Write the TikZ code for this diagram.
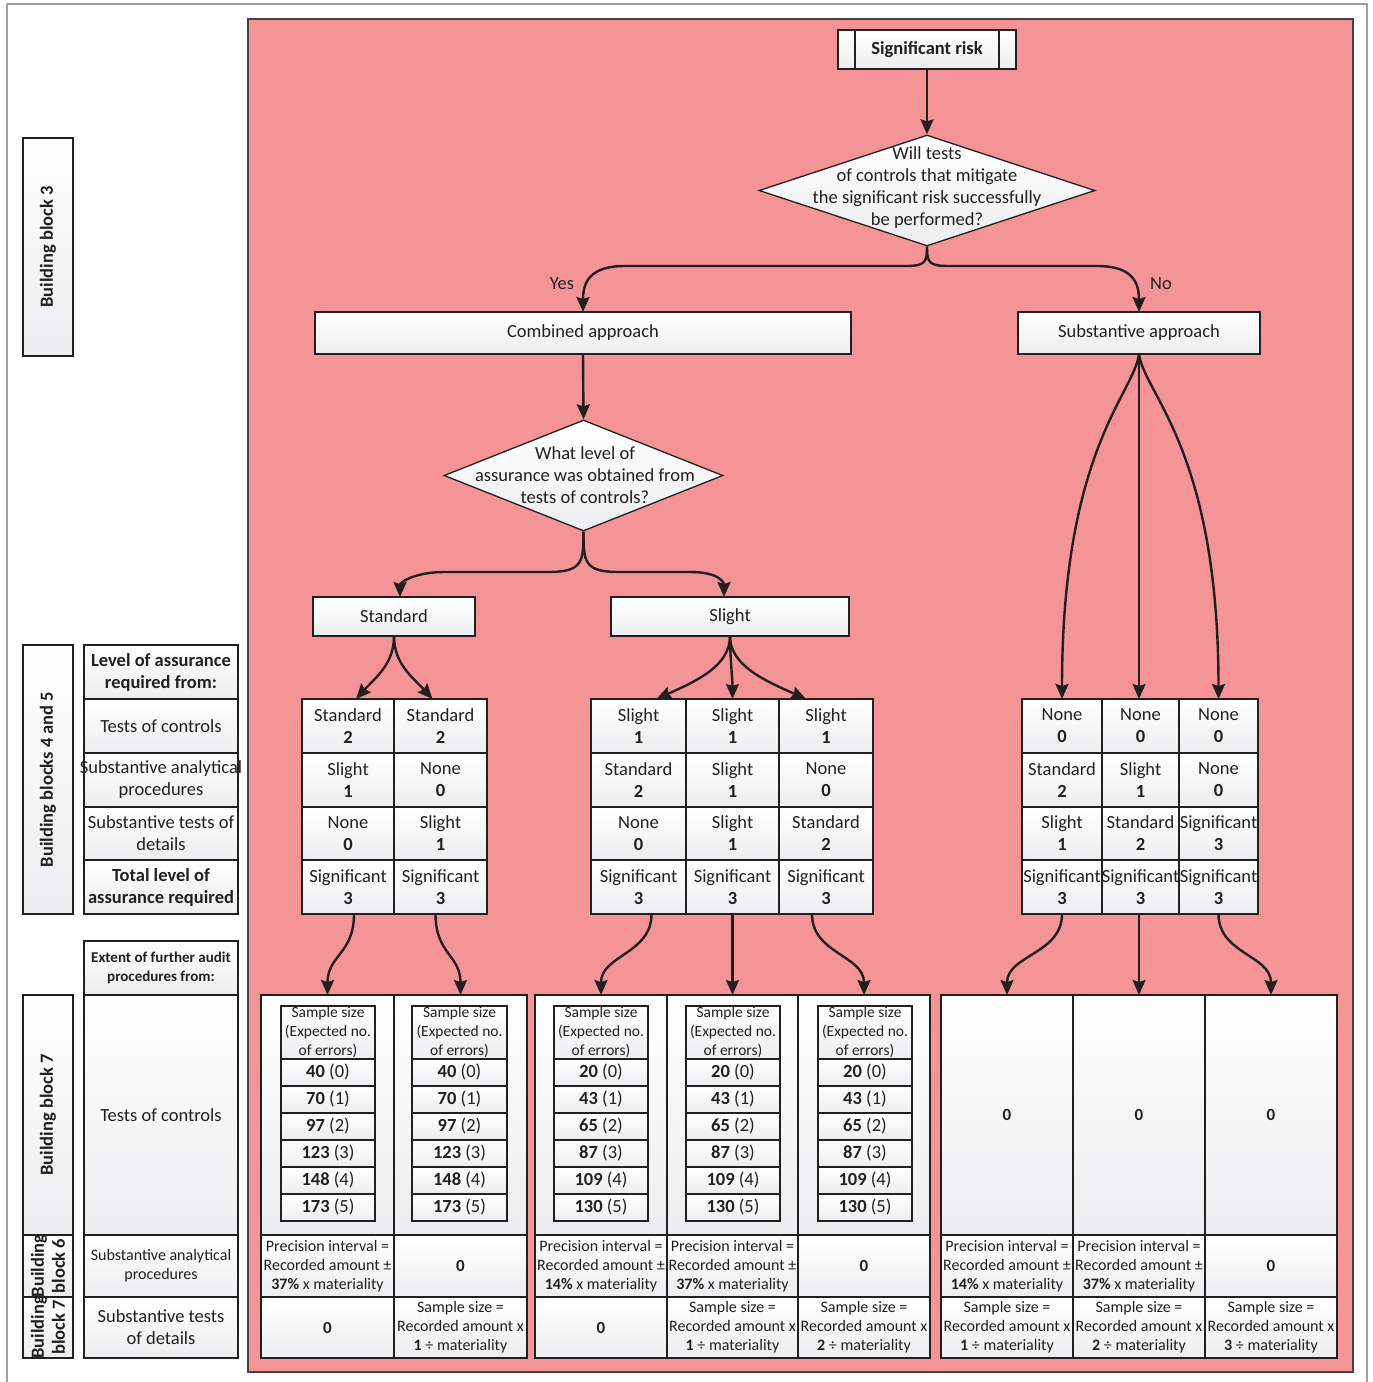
\documentclass[tikz,border=0pt]{standalone}
\usepackage{fontspec}
\setmainfont{Carlito}
\usetikzlibrary{arrows.meta,shapes.geometric}
\definecolor{panel}{RGB}{244,148,150}
\definecolor{ink}{RGB}{35,31,32}
\definecolor{boxbot}{RGB}{235,237,238}
\newcommand\mkrect[5]{\node[cbox, minimum width={(#4)-(#2)}, minimum height={(#5)-(#3)}] (#1) at ({((#2)+(#4))/2},{((#3)+(#5))/2}) {};}
\newcommand\mkbox[7]{\mkrect{#1}{#2}{#3}{#4}{#5}\node[txt,#6] (#1t) at (#1.center) {#7};}
\newcommand\lvl[7]{\mkbox{#1}{#2}{#3}{#4}{#5}{}{#6\\\textbf{#7}}}
\newcommand\sstab[9]{%
\mkbox{#1h}{#2}{1006}{#3}{1059}{fss}{Sample size\\(Expected no.\\of errors)}%
\mkbox{#1r0}{#2}{1059}{#3}{1086}{}{\textbf{#4} (0)}%
\mkbox{#1r1}{#2}{1086}{#3}{1113}{}{\textbf{#5} (1)}%
\mkbox{#1r2}{#2}{1113}{#3}{1140}{}{\textbf{#6} (2)}%
\mkbox{#1r3}{#2}{1140}{#3}{1167}{}{\textbf{#7} (3)}%
\mkbox{#1r4}{#2}{1167}{#3}{1194}{}{\textbf{#8} (4)}%
\mkbox{#1r5}{#2}{1194}{#3}{1221}{}{\textbf{#9} (5)}}
\begin{document}
\begin{tikzpicture}[x=1pt,y=-1pt,
  cbox/.style={draw=ink, line width=1.3pt, top color=white, bottom color=boxbot, inner sep=0pt, outer sep=0pt},
  txt/.style={inner sep=0pt, outer sep=0pt, align=center, text=ink, font=\fontsize{18.5}{22}\selectfont},
  fbf/.style={font=\bfseries\fontsize{18.5}{22}\selectfont},
  fsm/.style={font=\fontsize{16}{19}\selectfont},
  fsmb/.style={font=\bfseries\fontsize{17}{19}\selectfont},
  fss/.style={font=\fontsize{15.5}{19}\selectfont},
  fhb/.style={font=\bfseries\fontsize{15}{19}\selectfont},
  fbb/.style={font=\bfseries\fontsize{18.5}{21}\selectfont, rotate=90},
  arr/.style={draw=ink, line width=2.4pt, -{Stealth[length=15pt,width=13pt,inset=2pt]}},
  lbl/.style={inner sep=0pt, text=ink, font=\fontsize{18.5}{22}\selectfont}]
\useasboundingbox (0,0) rectangle (1373,1382);
\fill[white] (0,0) rectangle (1373,1382);
\draw[gray!75, line width=1.5pt] (7,1382) -- (7,4) -- (1367,4) -- (1367,1382);
\draw[fill=panel, draw=ink!85, line width=1.3pt] (248,19) rectangle (1353,1372);

% left labels
\mkbox{bb3}{23}{138}{73}{356}{fbb}{Building block 3}
\mkbox{bb45}{23}{645}{73}{914}{fbb}{Building blocks 4 and 5}
\mkbox{bb7}{23}{995}{73}{1235}{fbb}{Building block 7}
\mkbox{bb6}{23}{1235}{73}{1297}{fbb}{Building\\block 6}
\mkbox{bb7b}{23}{1297}{73}{1358}{fbb}{Building\\block 7}

\mkbox{la}{84}{645}{238}{699}{fbf}{Level of assurance\\required from:}
\mkbox{lb}{84}{699}{238}{753}{}{Tests of controls}
\mkbox{lc}{84}{753}{238}{807}{}{Substantive analytical\\procedures}
\mkbox{ld}{84}{807}{238}{860}{}{Substantive tests of\\details}
\mkbox{le}{84}{860}{238}{914}{fbf}{Total level of\\assurance required}

\mkbox{ea}{84}{941}{238}{995}{fhb}{Extent of further audit\\procedures from:}
\mkbox{eb}{84}{995}{238}{1235}{}{Tests of controls}
\mkbox{ec}{84}{1235}{238}{1297}{fsm}{Substantive analytical\\procedures}
\mkbox{ed}{84}{1297}{238}{1358}{}{Substantive tests\\of details}

% flow
\mkbox{sr}{838}{30}{1016}{69}{fbf}{Significant risk}
\draw[ink, line width=1.3pt] ([xshift=17pt]sr.north west) -- ([xshift=17pt]sr.south west);
\draw[ink, line width=1.3pt] ([xshift=-17pt]sr.north east) -- ([xshift=-17pt]sr.south east);
\node[draw=ink, line width=1.3pt, shape=diamond, top color=white, bottom color=boxbot, minimum width=336pt, minimum height=111pt, inner sep=0pt] (d1) at (927,190.5) {};
\node[txt] (d1t) at (927,188) {Will tests\\of controls that mitigate\\the significant risk successfully\\be performed?};
\mkbox{comb}{315}{312}{851}{354}{}{Combined approach}
\mkbox{sub}{1018}{312}{1260}{354}{}{Substantive approach}
\node[lbl] (yes) at (562,284) {Yes};
\node[lbl] (no) at (1161,284) {No};
\node[draw=ink, line width=1.3pt, shape=diamond, top color=white, bottom color=boxbot, minimum width=279pt, minimum height=111pt, inner sep=0pt] (d2) at (583.5,475.5) {};
\node[txt] (d2t) at (585,475) {What level of\\assurance was obtained from\\tests of controls?};
\mkbox{std}{313}{597}{475}{636}{}{Standard}
\mkbox{sl}{611}{597}{849}{636}{}{Slight}

% level tables
\lvl{a11}{302}{699}{394}{753}{Standard}{2}
\lvl{a12}{302}{753}{394}{807}{Slight}{1}
\lvl{a13}{302}{807}{394}{860}{None}{0}
\lvl{a14}{302}{860}{394}{914}{Significant}{3}
\lvl{a21}{394}{699}{487}{753}{Standard}{2}
\lvl{a22}{394}{753}{487}{807}{None}{0}
\lvl{a23}{394}{807}{487}{860}{Slight}{1}
\lvl{a24}{394}{860}{487}{914}{Significant}{3}

\lvl{b11}{591}{699}{686}{753}{Slight}{1}
\lvl{b12}{591}{753}{686}{807}{Standard}{2}
\lvl{b13}{591}{807}{686}{860}{None}{0}
\lvl{b14}{591}{860}{686}{914}{Significant}{3}
\lvl{b21}{686}{699}{779}{753}{Slight}{1}
\lvl{b22}{686}{753}{779}{807}{Slight}{1}
\lvl{b23}{686}{807}{779}{860}{Slight}{1}
\lvl{b24}{686}{860}{779}{914}{Significant}{3}
\lvl{b31}{779}{699}{873}{753}{Slight}{1}
\lvl{b32}{779}{753}{873}{807}{None}{0}
\lvl{b33}{779}{807}{873}{860}{Standard}{2}
\lvl{b34}{779}{860}{873}{914}{Significant}{3}

\lvl{c11}{1022}{699}{1102}{753}{None}{0}
\lvl{c12}{1022}{753}{1102}{807}{Standard}{2}
\lvl{c13}{1022}{807}{1102}{860}{Slight}{1}
\lvl{c14}{1022}{860}{1102}{914}{Significant}{3}
\lvl{c21}{1102}{699}{1179}{753}{None}{0}
\lvl{c22}{1102}{753}{1179}{807}{Slight}{1}
\lvl{c23}{1102}{807}{1179}{860}{Standard}{2}
\lvl{c24}{1102}{860}{1179}{914}{Significant}{3}
\lvl{c31}{1179}{699}{1258}{753}{None}{0}
\lvl{c32}{1179}{753}{1258}{807}{None}{0}
\lvl{c33}{1179}{807}{1258}{860}{Significant}{3}
\lvl{c34}{1179}{860}{1258}{914}{Significant}{3}

% bottom group 1
\mkrect{g1a}{261}{995}{394}{1235}
\mkrect{g1b}{394}{995}{527}{1235}
\mkbox{g1c}{261}{1235}{394}{1297}{fsm}{Precision interval =\\Recorded amount ±\\\textbf{37\%} x materiality}
\mkbox{g1d}{394}{1235}{527}{1297}{fsmb}{0}
\mkbox{g1e}{261}{1297}{394}{1358}{fsmb}{0}
\mkbox{g1f}{394}{1297}{527}{1358}{fsm}{Sample size =\\Recorded amount x\\\textbf{1} ÷ materiality}
\sstab{p1}{281}{375}{40}{70}{97}{123}{148}{173}
\sstab{p2}{412}{507}{40}{70}{97}{123}{148}{173}

% bottom group 2
\mkrect{g2a}{535}{995}{667}{1235}
\mkrect{g2b}{667}{995}{798}{1235}
\mkrect{g2c}{798}{995}{930}{1235}
\mkbox{g2d}{535}{1235}{667}{1297}{fsm}{Precision interval =\\Recorded amount ±\\\textbf{14\%} x materiality}
\mkbox{g2e}{667}{1235}{798}{1297}{fsm}{Precision interval =\\Recorded amount ±\\\textbf{37\%} x materiality}
\mkbox{g2f}{798}{1235}{930}{1297}{fsmb}{0}
\mkbox{g2g}{535}{1297}{667}{1358}{fsmb}{0}
\mkbox{g2h}{667}{1297}{798}{1358}{fsm}{Sample size =\\Recorded amount x\\\textbf{1} ÷ materiality}
\mkbox{g2i}{798}{1297}{930}{1358}{fsm}{Sample size =\\Recorded amount x\\\textbf{2} ÷ materiality}
\sstab{p3}{554}{648}{20}{43}{65}{87}{109}{130}
\sstab{p4}{686}{780}{20}{43}{65}{87}{109}{130}
\sstab{p5}{818}{912}{20}{43}{65}{87}{109}{130}

% bottom group 3
\mkbox{g3a}{941}{995}{1073}{1235}{fsmb}{0}
\mkbox{g3b}{1073}{995}{1205}{1235}{fsmb}{0}
\mkbox{g3c}{1205}{995}{1337}{1235}{fsmb}{0}
\mkbox{g3d}{941}{1235}{1073}{1297}{fsm}{Precision interval =\\Recorded amount ±\\\textbf{14\%} x materiality}
\mkbox{g3e}{1073}{1235}{1205}{1297}{fsm}{Precision interval =\\Recorded amount ±\\\textbf{37\%} x materiality}
\mkbox{g3f}{1205}{1235}{1337}{1297}{fsmb}{0}
\mkbox{g3g}{941}{1297}{1073}{1358}{fsm}{Sample size =\\Recorded amount x\\\textbf{1} ÷ materiality}
\mkbox{g3h}{1073}{1297}{1205}{1358}{fsm}{Sample size =\\Recorded amount x\\\textbf{2} ÷ materiality}
\mkbox{g3i}{1205}{1297}{1337}{1358}{fsm}{Sample size =\\Recorded amount x\\\textbf{3} ÷ materiality}

% connectors
\draw[arr] (sr.south) -- (sr.south |- d1.north);
\draw[arr] (d1.south) .. controls +(0,16) and +(20,0) .. (905,266) -- (625,266) .. controls +(-35,0) and +(0,-30) .. (comb.north);
\draw[arr] (d1.south) .. controls +(0,16) and +(-20,0) .. (949,266) -- (1097,266) .. controls +(35,0) and +(0,-30) .. (sub.north);
\draw[arr] (comb.south) -- (d2.north);
\draw[arr] (d2.south) .. controls +(0,30) and +(35,0) .. (548,572) -- (445,572) .. controls +(-32,0) and +(0,-14) .. ([xshift=6pt]std.north);
\draw[arr] (d2.south) .. controls +(0,30) and +(-35,0) .. (619,572) -- (690,572) .. controls +(30,0) and +(0,-14) .. ([xshift=-6pt]sl.north);
\draw[arr] (std.south) .. controls +(0,28) and +(20,-22) .. ([xshift=8pt]a11.north);
\draw[arr] (std.south) .. controls +(0,28) and +(-20,-22) .. ([xshift=-8pt]a21.north);
\draw[arr] (sl.south) .. controls +(0,30) and +(40,-18) .. ([xshift=18pt]b11.north);
\draw[arr] (sl.south) .. controls +(0,20) and +(0,-20) .. (b21.north);
\draw[arr] (sl.south) .. controls +(0,30) and +(-40,-18) .. ([xshift=-20pt]b31.north);
\draw[arr] (sub.south) .. controls +(-5,40) and +(0,-250) .. (c11.north);
\draw[arr] (sub.south) -- (sub.south |- c21.north);
\draw[arr] (sub.south) .. controls +(5,40) and +(0,-250) .. (c31.north);
\draw[arr] ([xshift=6pt]a14.south) .. controls +(0,40) and +(0,-40) .. (g1a.north);
\draw[arr] ([xshift=-5pt]a24.south) .. controls +(0,40) and +(0,-40) .. (g1b.north);
\draw[arr] ([xshift=13pt]b14.south) .. controls +(0,40) and +(0,-40) .. (g2a.north);
\draw[arr] (b24.south) -- (g2b.north);
\draw[arr] ([xshift=-14pt]b34.south) .. controls +(0,40) and +(0,-40) .. (g2c.north);
\draw[arr] (c14.south) .. controls +(0,40) and +(0,-40) .. (g3a.north);
\draw[arr] (g3b.north |- c24.south) -- (g3b.north);
\draw[arr] (c34.south) .. controls +(0,40) and +(0,-40) .. (g3c.north);
\end{tikzpicture}
\end{document}
